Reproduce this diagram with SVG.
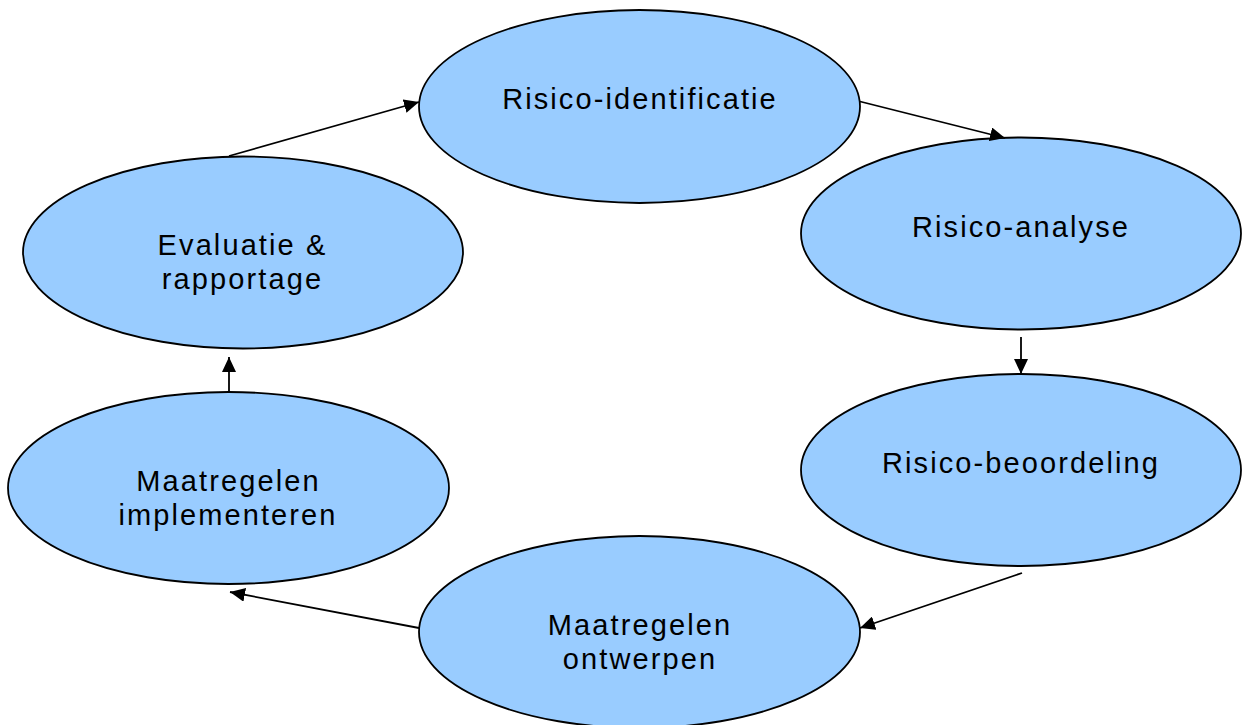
<svg xmlns="http://www.w3.org/2000/svg" width="1242" height="725" viewBox="0 0 1242 725">
  <style>
    .node ellipse { fill: #99CCFF; stroke: #000; stroke-width: 1.8; }
    .node text { font-family: "Liberation Sans", Arial, sans-serif; font-size: 29px; letter-spacing: 2.1px; fill: #000; text-anchor: middle; }
    .conn line { stroke: #000; stroke-width: 1.8; fill: none; marker-end: url(#arrow); }
  </style>
  <defs>
    <marker id="arrow" markerUnits="userSpaceOnUse" markerWidth="16" markerHeight="14" refX="15" refY="7" orient="auto">
      <path d="M0,0 L15,7 L0,14 z" fill="#000"/>
    </marker>
  </defs>
  <rect width="1242" height="725" fill="#fff"/>
  <g id="node-identificatie" class="node">
    <ellipse cx="639.5" cy="106.5" rx="220.5" ry="96.5"/>
    <text x="640" y="108.5">Risico-identificatie</text>
  </g>
  <g id="node-analyse" class="node">
    <ellipse cx="1021" cy="233.5" rx="220" ry="96"/>
    <text x="1021" y="236.5">Risico-analyse</text>
  </g>
  <g id="node-beoordeling" class="node">
    <ellipse cx="1021" cy="470" rx="220" ry="96"/>
    <text x="1021" y="472.5">Risico-beoordeling</text>
  </g>
  <g id="node-ontwerpen" class="node">
    <ellipse cx="639.5" cy="632" rx="220.5" ry="96"/>
    <text x="640" y="635">Maatregelen</text>
    <text x="640" y="669">ontwerpen</text>
  </g>
  <g id="node-implementeren" class="node">
    <ellipse cx="228.5" cy="488" rx="220.5" ry="96"/>
    <text x="228.5" y="490.5">Maatregelen</text>
    <text x="228" y="525">implementeren</text>
  </g>
  <g id="node-evaluatie" class="node">
    <ellipse cx="243" cy="252.5" rx="220" ry="96"/>
    <text x="242.5" y="255">Evaluatie &amp;</text>
    <text x="242.5" y="288.5">rapportage</text>
  </g>
  <g id="connectors" class="conn">
    <line x1="229" y1="156" x2="419" y2="102"/>
    <line x1="860" y1="101.5" x2="1005" y2="138"/>
    <line x1="1021" y1="337" x2="1021" y2="374"/>
    <line x1="1022" y1="573" x2="860" y2="628"/>
    <line x1="419" y1="628" x2="230" y2="592"/>
    <line x1="229" y1="391" x2="229" y2="357"/>
  </g>
</svg>
